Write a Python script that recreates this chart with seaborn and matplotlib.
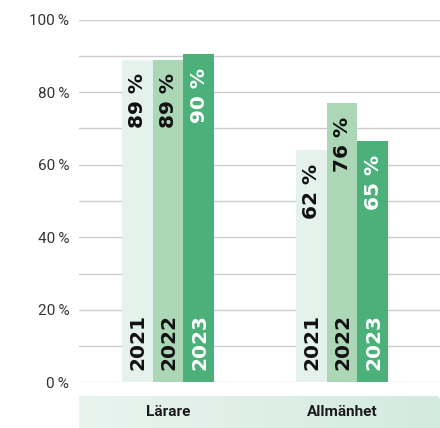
import numpy as np
import pandas as pd
import seaborn as sns
import matplotlib.pyplot as plt
from matplotlib.path import Path
from matplotlib.patches import PathPatch


# Data
groups = ['Lärare', 'Allmänhet']
years = ['2021', '2022', '2023']
bar_heights = {'2021': [89, 64], '2022': [89, 77], '2023': [90.5, 66.5]}
label_values = {'2021': [89, 62], '2022': [89, 76], '2023': [90, 65]}
y_ticks = [0, 20, 40, 60, 80, 100]
y_tick_labels = ['0\u2009%', '20\u2009%', '40\u2009%', '60\u2009%', '80\u2009%', '100\u2009%']

bar_colors = ['#e5f2ec', '#acd7b7', '#4bb07a']
text_colors = ['#111111', '#111111', '#ffffff']

df = pd.DataFrame([(g, y, bar_heights[y][i]) for y in years for i, g in enumerate(groups)],
                  columns=['group', 'year', 'value'])

sns.set_theme(style='white')
plt.rcParams['font.family'] = ['Roboto', 'DejaVu Sans']

fig = plt.figure(figsize=(4.4, 4.28), dpi=100)
W, H = 440, 428

# background band under the categories
band = fig.add_axes([79 / W, 0, (W - 79) / W, 32 / H], zorder=0)
grad = np.linspace(0, 1, 200).reshape(1, -1)
cmap = sns.blend_palette(['#e9f4ef', '#d3eae0'], as_cmap=True)
bw, bh, r = W - 79, 32, 4
img = band.imshow(grad, extent=[0, bw, 0, bh], aspect='auto', cmap=cmap)
t = np.linspace(0, np.pi / 2, 12)
verts = [(0, 0), (bw, 0), (bw, bh - r)] + [(bw - r + r * np.cos(a), bh - r + r * np.sin(a)) for a in t] + [(0, bh), (0, 0)]
clip = PathPatch(Path(verts), transform=band.transData, facecolor='none', edgecolor='none')
band.add_patch(clip)
img.set_clip_path(clip)
band.set_xlim(0, bw)
band.set_ylim(0, bh)
band.axis('off')

# main chart
ax = fig.add_axes([79 / W, 1 - 382.3 / H, (W - 79) / W, (382.3 - 19.7) / H], zorder=1)
ax.patch.set_alpha(0)
sns.barplot(data=df, x='group', y='value', hue='year', palette=bar_colors, width=0.53,
            saturation=1, legend=False, ax=ax, zorder=2, linewidth=0, edgecolor='none')

ax.set_ylim(0, 100)
ax.set_xlim(-0.5115, 1.563)
ax.set_yticks(y_ticks)
ax.set_yticklabels(y_tick_labels)
ax.set_yticks(np.arange(10, 100, 20), minor=True)
ax.grid(True, which='both', axis='y', color='#cccccc', linewidth=1, zorder=0)
ax.set_axisbelow(True)
for s in ax.spines.values():
    s.set_visible(False)
ax.set_xlabel('')
ax.set_ylabel('')
ax.tick_params(axis='y', which='both', length=0, pad=7, labelsize=11, labelcolor='#333333')
ax.tick_params(axis='x', length=0, pad=16.5)
for lbl in ax.get_xticklabels():
    lbl.set_fontweight('bold')
    lbl.set_fontsize(11)
    lbl.set_color('#1a1a1a')

# labels inside the bars
inner_font = ['Liberation Sans Narrow', 'DejaVu Sans']
for i, cont in enumerate(ax.containers):
    for j, bar in enumerate(cont.patches):
        cx = bar.get_x() + bar.get_width() / 2
        ax.annotate(years[i], (cx, 0), xytext=(0.5, 8.5), textcoords='offset points',
                    rotation=90, ha='center', va='bottom', fontsize=14.5, fontweight='bold',
                    color=text_colors[i], family=inner_font, zorder=3)
        ax.annotate(f'{label_values[years[i]][j]} %', (cx, bar.get_height()), xytext=(0.5, -10),
                    textcoords='offset points', rotation=90, ha='center', va='top',
                    fontsize=14.5, fontweight='bold', color=text_colors[i], family=inner_font, zorder=3)

fig.savefig('out.png', dpi=100)
